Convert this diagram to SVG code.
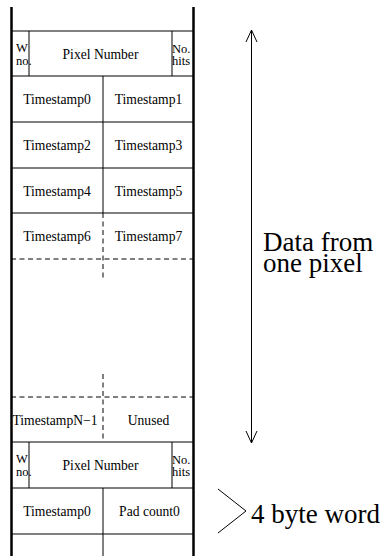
<svg xmlns="http://www.w3.org/2000/svg" width="383" height="556" viewBox="0 0 383 556">
<style>
text{font-family:'Liberation Serif','Times New Roman','DejaVu Serif',serif;fill:#000}
.t{font-size:13.6px;text-anchor:middle}
.s{font-size:12.5px}
.big{font-size:27px}
.thin{stroke:#000;stroke-width:1;fill:none}
.dash{stroke:#000;stroke-width:1;fill:none;stroke-dasharray:5 3.5}
.thick{stroke:#000;stroke-width:2.5;fill:none}
</style>
<rect width="383" height="556" fill="#fff"/>
<g id="frame">
<line class="thick" x1="11.5" y1="7" x2="11.5" y2="556"/>
<line class="thick" x1="193.5" y1="7" x2="193.5" y2="556"/>
</g>
<g id="connectors">
<line class="thin" x1="11" y1="31" x2="194" y2="31"/>
<line class="thin" x1="11" y1="76" x2="194" y2="76"/>
<line class="thin" x1="11" y1="122" x2="194" y2="122"/>
<line class="thin" x1="11" y1="168" x2="194" y2="168"/>
<line class="thin" x1="11" y1="213" x2="194" y2="213"/>
<line class="dash" x1="11" y1="259" x2="194" y2="259"/>
<line class="dash" x1="11" y1="397" x2="194" y2="397"/>
<line class="thin" x1="11" y1="442" x2="194" y2="442"/>
<line class="thin" x1="11" y1="488" x2="194" y2="488"/>
<line class="thin" x1="11" y1="534" x2="194" y2="534"/>
<line class="thin" x1="29" y1="31" x2="29" y2="76"/>
<line class="thin" x1="172" y1="31" x2="172" y2="76"/>
<line class="thin" x1="29" y1="442" x2="29" y2="488"/>
<line class="thin" x1="172" y1="442" x2="172" y2="488"/>
<line class="thin" x1="103" y1="76" x2="103" y2="213"/>
<line class="dash" x1="103" y1="213" x2="103" y2="281"/>
<line class="dash" x1="103" y1="374" x2="103" y2="442"/>
<line class="thin" x1="103" y1="488" x2="103" y2="556"/>
<line class="thin" x1="251.5" y1="30" x2="251.5" y2="443"/>
<polyline class="thin" points="246,42 251.5,30 257,42"/>
<polyline class="thin" points="246,431 251.5,443 257,431"/>
<polyline class="thin" points="218,489 246,511 218,533"/>
</g>
<g id="header1">
<text class="s" x="16" y="52">W</text>
<text class="s" x="16" y="64.5">no.</text>
<text class="t" x="100.5" y="58.5">Pixel Number</text>
<text class="s" x="172" y="52.5">No.</text>
<text class="s" x="172" y="65">hits</text>
</g>
<g id="row1">
<text class="t" x="57" y="104">Timestamp0</text>
<text class="t" x="148.5" y="104">Timestamp1</text>
</g>
<g id="row2">
<text class="t" x="57" y="150">Timestamp2</text>
<text class="t" x="148.5" y="150">Timestamp3</text>
</g>
<g id="row3">
<text class="t" x="57" y="195.5">Timestamp4</text>
<text class="t" x="148.5" y="195.5">Timestamp5</text>
</g>
<g id="row4">
<text class="t" x="57" y="241">Timestamp6</text>
<text class="t" x="148.5" y="241">Timestamp7</text>
</g>
<g id="rowN">
<text class="t" x="55" y="424.5">TimestampN−1</text>
<text class="t" x="148.5" y="424.5">Unused</text>
</g>
<g id="header2">
<text class="s" x="16" y="463">W</text>
<text class="s" x="16" y="475.5">no.</text>
<text class="t" x="100.5" y="470">Pixel Number</text>
<text class="s" x="172" y="463.5">No.</text>
<text class="s" x="172" y="476">hits</text>
</g>
<g id="row5">
<text class="t" x="57" y="516">Timestamp0</text>
<text class="t" x="149.5" y="516">Pad count0</text>
</g>
<g id="labels">
<text class="big" x="263" y="251">Data from</text>
<text class="big" x="263" y="272">one pixel</text>
<text class="big" x="251" y="523">4 byte word</text>
</g>
</svg>
